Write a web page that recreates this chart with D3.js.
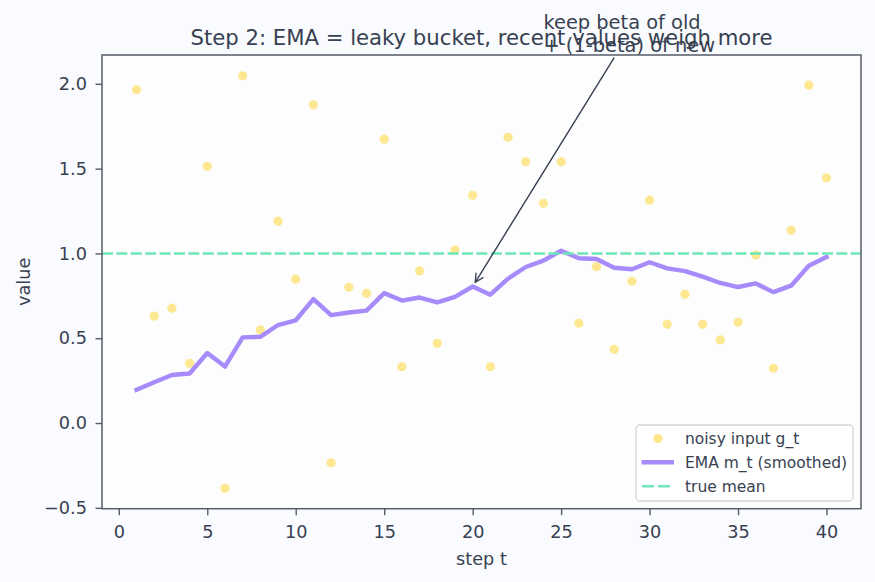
<!DOCTYPE html>
<html>
<head>
<meta charset="utf-8">
<script src="https://cdn.jsdelivr.net/npm/d3@7"></script>
<style>
  html, body { margin: 0; padding: 0; background: #fafbfe; }
  svg { display: block; font-family: "DejaVu Sans", sans-serif; }
</style>
</head>
<body>
<svg id="chart" width="875" height="582"></svg>
<script>
// ---- data ----
const steps = [1,2,3,4,5,6,7,8,9,10,11,12,13,14,15,16,17,18,19,20,
               21,22,23,24,25,26,27,28,29,30,31,32,33,34,35,36,37,38,39,40];
const noisyInput = [1.965, 0.631, 0.677, 0.352, 1.514, -0.385, 2.047, 0.549, 1.19, 0.848,
                    1.876, -0.234, 0.80, 0.765, 1.674, 0.332, 0.897, 0.47, 1.02, 1.343,
                    0.332, 1.685, 1.54, 1.296, 1.54, 0.588, 0.922, 0.435, 0.836, 1.314,
                    0.582, 0.759, 0.582, 0.49, 0.594, 0.991, 0.323, 1.137, 1.992, 1.445];
const emaSmoothed = [0.196, 0.240, 0.283, 0.292, 0.413, 0.333, 0.505, 0.508, 0.578, 0.606,
                     0.731, 0.636, 0.652, 0.663, 0.766, 0.722, 0.740, 0.712, 0.744, 0.805,
                     0.757, 0.851, 0.920, 0.958, 1.016, 0.972, 0.967, 0.916, 0.907, 0.948,
                     0.912, 0.896, 0.863, 0.826, 0.802, 0.823, 0.772, 0.810, 0.927, 0.979];
const trueMean = 1.0;
const xTicks = [0, 5, 10, 15, 20, 25, 30, 35, 40];
const yTicks = [-0.5, 0.0, 0.5, 1.0, 1.5, 2.0];
const xDomain = [-0.95, 41.95];
const yDomain = [-0.505, 2.17];
const titleText = "Step 2: EMA = leaky bucket, recent values weigh more";
const xLabel = "step t";
const yLabel = "value";
const legendLabels = ["noisy input g_t", "EMA m_t (smoothed)", "true mean"];
const annotLines = ["keep beta of old", "+ (1-beta) of new"];
const annotTarget = {step: 20, value: emaSmoothed[19]};
const annotTextAt = {step: 24.0, value: 2.325};
const annotArrowFrom = {step: 28.0, value: 2.155};

// ---- styles ----
const C = {
  fig: "#fafbfe", axes: "#fdfdfe", text: "#374151", spine: "#565b68",
  point: "#fde68a", ema: "#a78bfa", mean: "#6ee7b7", arrow: "#374151"
};

const svg = d3.select("#chart");
const W = 875, H = 582;
const plot = {left: 102, right: 861, top: 55, bottom: 508.7};

svg.append("rect").attr("width", W).attr("height", H).attr("fill", C.fig);
svg.append("rect")
  .attr("x", plot.left).attr("y", plot.top)
  .attr("width", plot.right - plot.left).attr("height", plot.bottom - plot.top)
  .attr("fill", C.axes);

const x = d3.scaleLinear().domain(xDomain).range([plot.left, plot.right]);
const y = d3.scaleLinear().domain(yDomain).range([plot.bottom, plot.top]);

// scatter points
svg.append("g").selectAll("circle")
  .data(steps.map((s, i) => ({s, v: noisyInput[i]})))
  .join("circle")
  .attr("cx", d => x(d.s)).attr("cy", d => y(d.v))
  .attr("r", 4.6).attr("fill", C.point).attr("opacity", 0.95);

// EMA line
const line = d3.line().x(d => x(d.s)).y(d => y(d.v));
svg.append("path")
  .datum(steps.map((s, i) => ({s, v: emaSmoothed[i]})))
  .attr("d", line)
  .attr("fill", "none").attr("stroke", C.ema).attr("stroke-width", 4.4)
  .attr("stroke-linejoin", "round").attr("stroke-linecap", "square");

// true mean dashed line
svg.append("line")
  .attr("x1", plot.left).attr("x2", plot.right)
  .attr("y1", y(trueMean)).attr("y2", y(trueMean))
  .attr("stroke", C.mean).attr("stroke-width", 2.6)
  .attr("stroke-dasharray", "11,3.4");

// axes
const fs = 17.7;
const xAxis = d3.axisBottom(x).tickValues(xTicks).tickFormat(d3.format("d"))
  .tickSize(6.5).tickPadding(9.8);
const yAxis = d3.axisLeft(y).tickValues(yTicks).tickFormat(d => d3.format(".1f")(d).replace("-", "\u2212"))
  .tickSize(6.5).tickPadding(8.5);

const gx = svg.append("g").attr("transform", `translate(0,${plot.bottom})`).call(xAxis);
const gy = svg.append("g").attr("transform", `translate(${plot.left},0)`).call(yAxis);
[gx, gy].forEach(g => {
  g.select(".domain").remove();
  g.selectAll(".tick line").attr("stroke", C.spine).attr("stroke-width", 1.4);
  g.selectAll(".tick text").attr("fill", C.text).attr("font-size", fs)
    .attr("font-family", "DejaVu Sans");
});

// spines (box)
svg.append("rect")
  .attr("x", plot.left).attr("y", plot.top)
  .attr("width", plot.right - plot.left).attr("height", plot.bottom - plot.top)
  .attr("fill", "none").attr("stroke", C.spine).attr("stroke-width", 1.5);

// labels
svg.append("text").attr("x", (plot.left + plot.right) / 2).attr("y", 565)
  .attr("text-anchor", "middle").attr("font-size", fs).attr("fill", C.text).text(xLabel);
svg.append("text")
  .attr("transform", `translate(29.5,${(plot.top + plot.bottom) / 2}) rotate(-90)`)
  .attr("text-anchor", "middle").attr("font-size", fs).attr("fill", C.text).text(yLabel);
svg.append("text").attr("x", (plot.left + plot.right) / 2).attr("y", 45)
  .attr("text-anchor", "middle").attr("font-size", 21.2).attr("fill", C.text).text(titleText);

// annotation
const tx = x(annotTarget.step), ty = y(annotTarget.value);
const fx = x(annotArrowFrom.step), fy = y(annotArrowFrom.value);
const dx = fx - tx, dy = fy - ty, len = Math.hypot(dx, dy);
const ux = dx / len, uy = dy / len;
const tipX = tx + ux * 5, tipY = ty + uy * 5;
svg.append("line").attr("x1", fx).attr("y1", fy).attr("x2", tipX).attr("y2", tipY)
  .attr("stroke", C.arrow).attr("stroke-width", 1.4);
const hl = 8.5, hw = 4.3, px = -uy, py = ux;
svg.append("path")
  .attr("d", `M${tipX + ux * hl + px * hw},${tipY + uy * hl + py * hw} L${tipX},${tipY} L${tipX + ux * hl - px * hw},${tipY + uy * hl - py * hw}`)
  .attr("fill", "none").attr("stroke", C.arrow).attr("stroke-width", 1.4)
  .attr("stroke-linejoin", "miter");
const at = svg.append("text").attr("font-size", 19.4).attr("fill", C.text);
annotLines.forEach((t, i) => {
  at.append("tspan").attr("x", x(annotTextAt.step))
    .attr("y", y(annotTextAt.value) + i * 23).text(t);
});

// legend
const lg = svg.append("g");
lg.append("rect").attr("x", 636).attr("y", 425).attr("width", 217).attr("height", 76)
  .attr("rx", 4).attr("fill", "#ffffff").attr("fill-opacity", 0.8)
  .attr("stroke", "#d4d4d8").attr("stroke-width", 1.3);
const rowY = [438.5, 462.3, 486.2];
lg.append("circle").attr("cx", 658).attr("cy", rowY[0]).attr("r", 4.6).attr("fill", C.point);
lg.append("line").attr("x1", 641.5).attr("x2", 674).attr("y1", rowY[1]).attr("y2", rowY[1])
  .attr("stroke", C.ema).attr("stroke-width", 4.4).attr("stroke-linecap", "butt");
lg.append("line").attr("x1", 642).attr("x2", 672).attr("y1", rowY[2]).attr("y2", rowY[2])
  .attr("stroke", C.mean).attr("stroke-width", 2.6).attr("stroke-dasharray", "12,4");
legendLabels.forEach((t, i) => {
  lg.append("text").attr("x", 685).attr("y", rowY[i] + 5.6)
    .attr("font-size", 15.5).attr("fill", C.text).text(t);
});
</script>
</body>
</html>
